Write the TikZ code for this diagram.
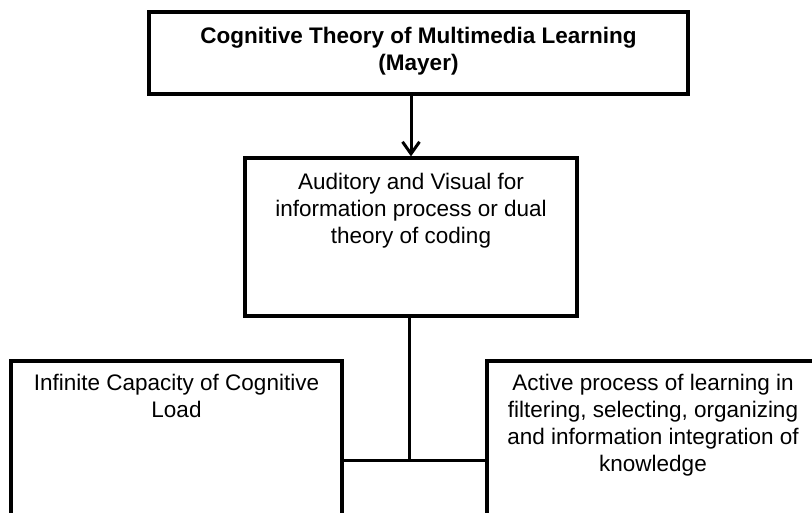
\documentclass[tikz,border=0pt]{standalone}
\usepackage{fontspec}
\setmainfont{Liberation Sans}
\usetikzlibrary{arrows.meta}
\begin{document}
\begin{tikzpicture}[x=1pt,y=-1pt,
  boxstyle/.style={draw=black, line width=3.2pt, rectangle, inner sep=0pt},
  txt/.style={anchor=north, align=center, inner sep=0pt, font=\fontsize{22.5}{27}\selectfont},
  conn/.style={draw=black, line width=3pt}]
\useasboundingbox (0,0) rectangle (812,513);
\clip (0,0) rectangle (812,513);
\fill[white] (0,0) rectangle (812,513);
% boxes
\node[boxstyle, minimum width=539pt, minimum height=82pt] (top) at (418.5,53) {};
\node[boxstyle, minimum width=332pt, minimum height=158pt] (mid) at (411,237) {};
\node[boxstyle, minimum width=331pt, minimum height=240pt] (left) at (176.5,481) {};
\node[boxstyle, minimum width=332pt, minimum height=240pt] (right) at (653,481) {};
% texts
\node[txt, font=\fontsize{22.5}{27}\selectfont\bfseries] (toptxt) at ([yshift=-17pt]top.north) {Cognitive Theory of Multimedia Learning\\(Mayer)};
\node[txt] (midtxt) at ([yshift=-17pt]mid.north) {Auditory and Visual for\\information process or dual\\theory of coding};
\node[txt] (lefttxt) at ([yshift=-15pt]left.north) {Infinite Capacity of Cognitive\\Load};
\node[txt] (righttxt) at ([yshift=-15pt]right.north) {Active process of learning in\\filtering, selecting, organizing\\and information integration of\\knowledge};
% connectors
\coordinate (j) at (409.5,460);
\draw[conn, -{Straight Barb[length=12pt,width=17pt,line width=3pt]}] (mid.north |- top.south) -- (mid.north);
\draw[conn] (mid.south -| j) -- (j);
\draw[conn] (left.east |- j) -- (right.west |- j);
\end{tikzpicture}
\end{document}
